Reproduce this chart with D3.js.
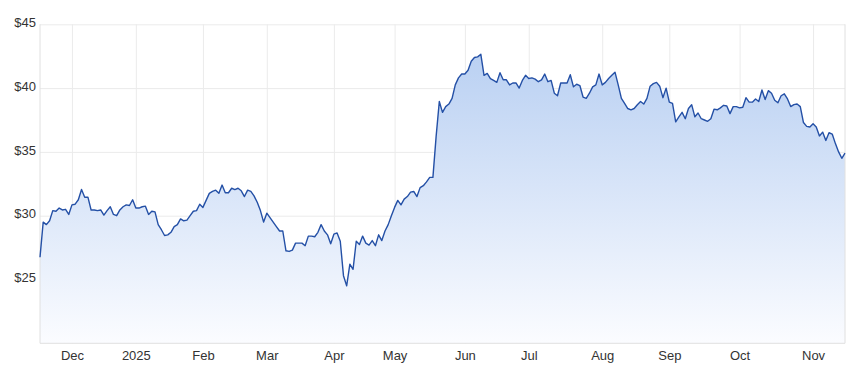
<!DOCTYPE html>
<html>
<head>
<meta charset="utf-8">
<script src="https://cdn.jsdelivr.net/npm/d3@7"></script>
<style>
  html, body { margin: 0; padding: 0; background: #fff; }
  svg { display: block; font-family: Inter, "Noto Sans", sans-serif; }
  .axis text { fill: #333; font-size: 13px; }
  .axis .domain { display: none; }
  .grid line { stroke: #ebebeb; }
  .grid .domain { display: none; }
</style>
</head>
<body>
<svg id="chart" width="862" height="384"></svg>
<script>
// daily closes, one per trading day (Nov 2024 - Nov 2025)
const prices = [
  26.74, 29.5, 29.3, 29.6, 30.4, 30.35, 30.6, 30.45, 30.5, 30.1,
  30.85, 30.9, 31.25, 32.05, 31.45, 31.45, 30.45, 30.45, 30.4, 30.45,
  30.05, 30.4, 30.7, 30.1, 30.0, 30.45, 30.7, 30.85, 30.8, 31.25,
  30.6, 30.6, 30.7, 30.75, 30.1, 30.35, 30.3, 29.3, 28.9, 28.45,
  28.5, 28.7, 29.15, 29.3, 29.75, 29.6, 29.65, 30.0, 30.35, 30.4,
  30.9, 30.65, 31.2, 31.75, 31.9, 32.0, 31.75, 32.4, 31.8, 31.8,
  32.15, 32.05, 32.15, 31.95, 31.5, 32.0, 31.9, 31.55, 31.05, 30.4,
  29.5, 30.2, 29.85, 29.5, 29.15, 28.8, 28.8, 27.25, 27.2, 27.3,
  27.85, 27.85, 27.85, 27.65, 28.4, 28.4, 28.35, 28.7, 29.3, 28.8,
  28.5, 27.8, 28.55, 28.65, 28.0, 25.3, 24.5, 26.2, 25.8, 28.0,
  27.75, 28.4, 27.85, 27.7, 28.05, 27.65, 28.5, 28.05, 28.8, 29.3,
  30.0, 30.65, 31.2, 30.85, 31.3, 31.5, 31.85, 31.9, 31.5, 32.2,
  32.35, 32.65, 33.0, 33.0, 36.2, 38.95, 38.1, 38.55, 38.75, 39.2,
  40.25, 40.8, 41.1, 41.1, 41.4, 42.1, 42.4, 42.45, 42.65, 41.0,
  41.15, 40.75, 40.6, 40.45, 41.2, 40.65, 40.65, 40.25, 40.4, 40.4,
  40.0, 40.6, 41.0, 40.75, 40.8, 40.7, 40.5, 40.65, 41.1, 40.5,
  40.6, 39.6, 39.4, 40.4, 40.4, 40.4, 41.05, 40.1, 40.3, 40.2,
  39.3, 39.2, 39.6, 40.1, 40.25, 41.1, 40.25, 40.45, 40.75, 41.0,
  41.25, 40.25, 39.2, 38.8, 38.4, 38.3, 38.4, 38.7, 38.95, 38.75,
  39.2, 40.15, 40.35, 40.45, 40.15, 39.25, 40.0, 38.9, 38.8, 37.35,
  37.75, 38.1, 37.6, 38.4, 38.7, 37.75, 38.05, 37.6, 37.5, 37.4,
  37.6, 38.35, 38.3, 38.45, 38.65, 38.6, 38.0, 38.55, 38.55, 38.45,
  38.5, 39.25, 38.9, 38.9, 39.15, 38.95, 39.85, 39.1, 39.8, 39.6,
  39.05, 38.85, 39.4, 39.55, 39.15, 38.55, 38.7, 38.75, 38.55, 37.3,
  37.0, 36.95, 37.2, 36.95, 36.25, 36.55, 35.9, 36.5, 36.4, 35.65,
  35.0, 34.5, 34.9
];

// index of the first trading day of each month, and its label
const monthTickIndex = [10, 30, 51, 71, 92, 111, 133, 153, 176, 197, 219, 242];
const monthTickLabels = ['Dec', '2025', 'Feb', 'Mar', 'Apr', 'May', 'Jun', 'Jul', 'Aug', 'Sep', 'Oct', 'Nov'];
const priceTicks = [25, 30, 35, 40, 45];

const margin = { top: 24.3, right: 17, bottom: 40.7, left: 40 };
const width = 862, height = 384;

const svg = d3.select('#chart');

const xScale = d3.scaleLinear()
  .domain([0, prices.length - 1])
  .range([margin.left, width - margin.right]);
const yScale = d3.scaleLinear()
  .domain([20, 45])
  .range([height - margin.bottom, margin.top]);

// gradient under the line
const grad = svg.append('defs').append('linearGradient')
  .attr('id', 'fill').attr('x1', 0).attr('y1', 0).attr('x2', 0).attr('y2', 1)
  .attr('gradientUnits', 'userSpaceOnUse')
  .attr('y1', yScale(45)).attr('y2', yScale(20)).attr('x2', 0);
grad.append('stop').attr('offset', 0).attr('stop-color', '#b3ccf1');
grad.append('stop').attr('offset', 1).attr('stop-color', '#fbfcff');

// grid
svg.append('g').attr('class', 'grid')
  .attr('transform', `translate(${margin.left},0)`)
  .call(d3.axisLeft(yScale).tickValues(priceTicks).tickSize(-(width - margin.left - margin.right)).tickFormat(''));
svg.append('g').attr('class', 'grid')
  .attr('transform', `translate(0,${margin.top})`)
  .call(d3.axisBottom(xScale).tickValues(monthTickIndex).tickSize(height - margin.top - margin.bottom).tickFormat(''));

const area = d3.area()
  .x((d, i) => xScale(i))
  .y0(yScale(20))
  .y1(d => yScale(d));
const line = d3.line()
  .x((d, i) => xScale(i))
  .y(d => yScale(d));

svg.append('path').datum(prices)
  .attr('d', area)
  .attr('fill', 'url(#fill)');

// plot frame: left, bottom, right
const frame = svg.append('g').attr('stroke', '#e0e0e0').attr('stroke-width', 1);
frame.append('line')
  .attr('x1', xScale(0)).attr('x2', xScale(0))
  .attr('y1', yScale(45)).attr('y2', yScale(20));
frame.append('line')
  .attr('x1', xScale(prices.length - 1)).attr('x2', xScale(prices.length - 1))
  .attr('y1', yScale(45)).attr('y2', yScale(20));
frame.append('line')
  .attr('x1', xScale(0)).attr('x2', xScale(prices.length - 1))
  .attr('y1', yScale(20)).attr('y2', yScale(20));

svg.append('path').datum(prices)
  .attr('d', line)
  .attr('fill', 'none')
  .attr('stroke', '#2450a6')
  .attr('stroke-width', 1.4)
  .attr('stroke-linejoin', 'round');

// axes labels
svg.append('g').attr('class', 'axis')
  .attr('transform', `translate(${margin.left - 4},-2)`)
  .call(d3.axisLeft(yScale).tickValues(priceTicks).tickSize(0).tickPadding(0).tickFormat(d => '$' + d));
svg.append('g').attr('class', 'axis')
  .attr('transform', `translate(0,${height - margin.bottom + 7})`)
  .call(d3.axisBottom(xScale).tickValues(monthTickIndex).tickSize(0).tickPadding(0)
    .tickFormat((d, i) => monthTickLabels[i]));
</script>
</body>
</html>
